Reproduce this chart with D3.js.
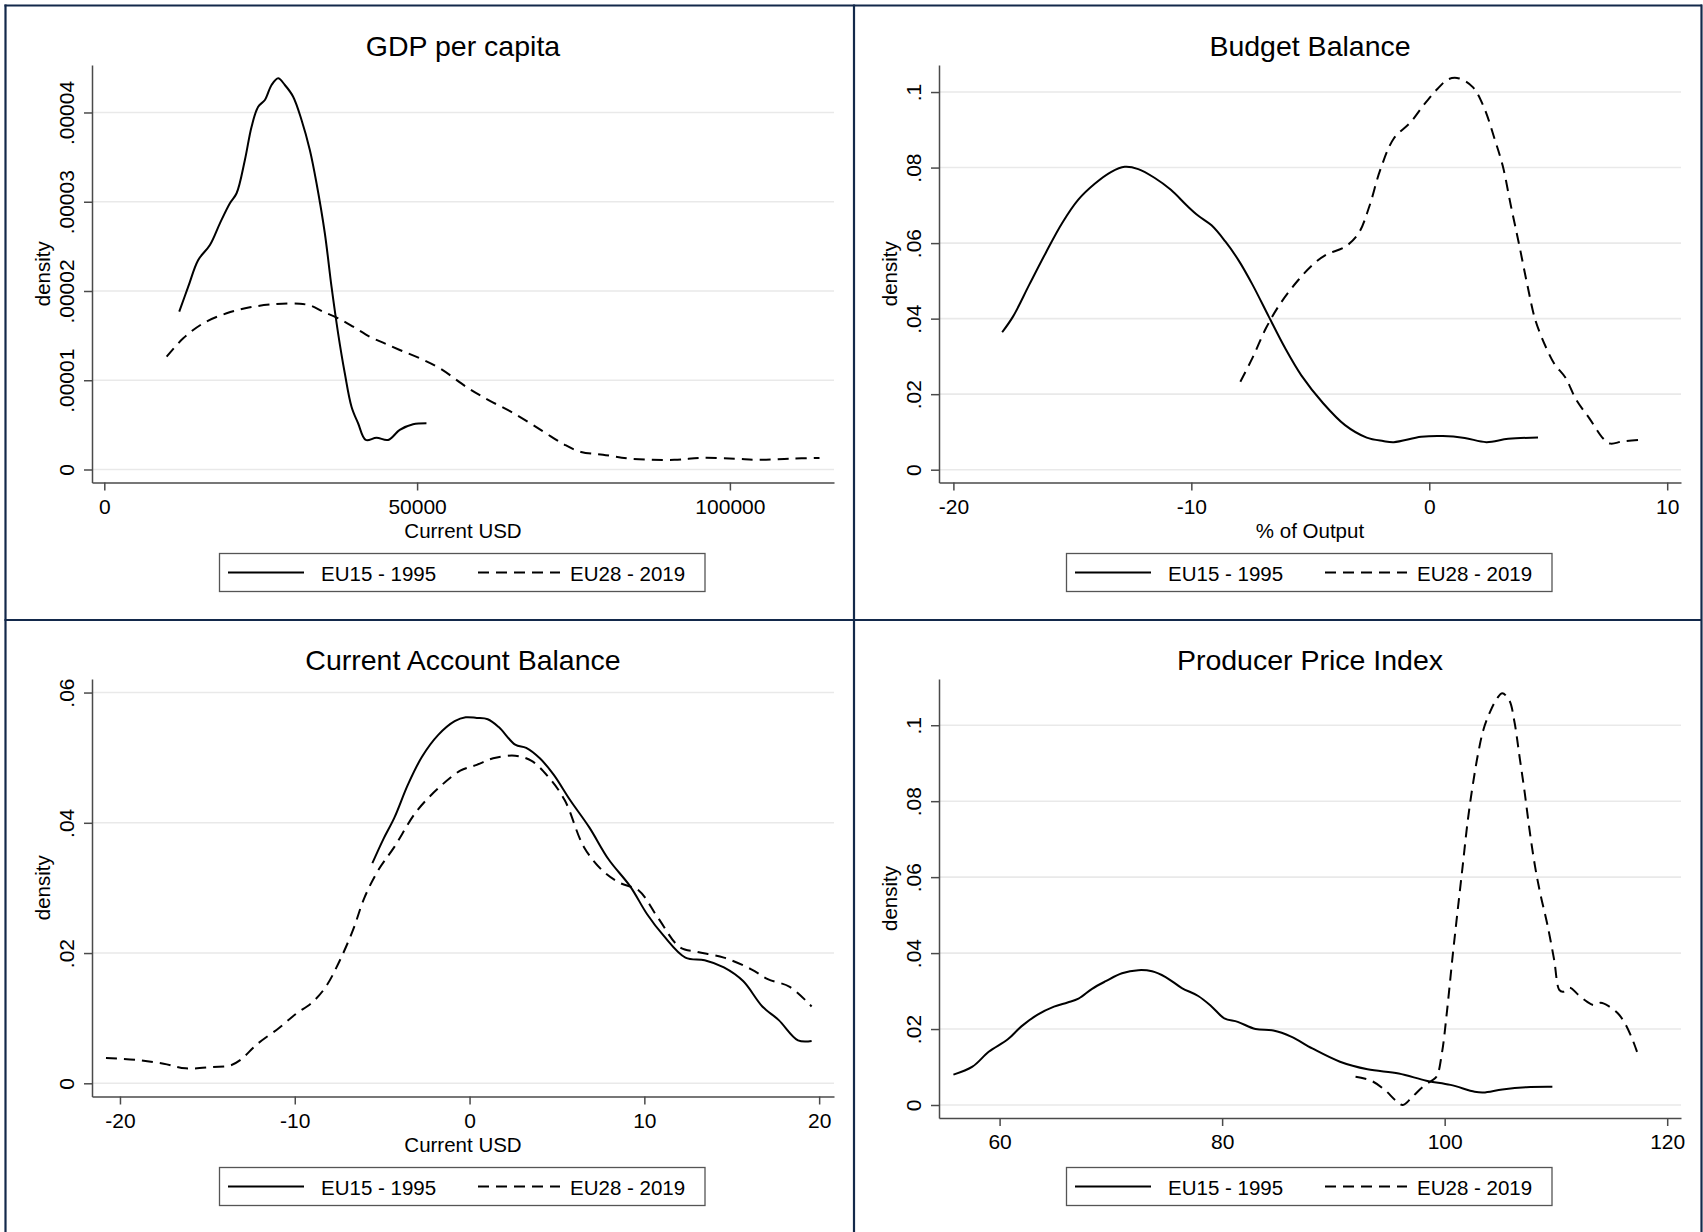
<!DOCTYPE html>
<html><head><meta charset="utf-8">
<script src="https://cdn.jsdelivr.net/npm/d3@7"></script>
<style>
body{margin:0;background:#fff}
text{font-family:"Liberation Sans",Arial,Helvetica,sans-serif;fill:#000}
</style>
</head><body>
<svg id="c" width="1703" height="1232"></svg>
<script>
// ---------------- DATA ----------------
const panelTitles = ["GDP per capita", "Budget Balance", "Current Account Balance", "Producer Price Index"];
const xAxisTitles = ["Current USD", "% of Output", "Current USD", ""];
const seriesNames = ["EU15 - 1995", "EU28 - 2019"];

const gdpXTicks = [0, 50000, 100000];
const gdpXTickLabels = ["0", "50000", "100000"];
const gdpYTicks = [0, 0.00001, 0.00002, 0.00003, 0.00004];
const gdpYTickLabels = ["0", ".00001", ".00002", ".00003", ".00004"];

const budXTicks = [-20, -10, 0, 10];
const budXTickLabels = ["-20", "-10", "0", "10"];
const budYTicks = [0, 0.02, 0.04, 0.06, 0.08, 0.1];
const budYTickLabels = ["0", ".02", ".04", ".06", ".08", ".1"];

const caXTicks = [-20, -10, 0, 10, 20];
const caXTickLabels = ["-20", "-10", "0", "10", "20"];
const caYTicks = [0, 0.02, 0.04, 0.06];
const caYTickLabels = ["0", ".02", ".04", ".06"];

const ppiXTicks = [60, 80, 100, 120];
const ppiXTickLabels = ["60", "80", "100", "120"];
const ppiYTicks = [0, 0.02, 0.04, 0.06, 0.08, 0.1];
const ppiYTickLabels = ["0", ".02", ".04", ".06", ".08", ".1"];

const gdpEU15 = [[11979,1.768e-5],[13416,2.048e-5],[15014,2.347e-5],[16882,2.515e-5],[18480,2.758e-5],[20077,2.983e-5],[21146,3.095e-5],[22473,3.468e-5],[23542,3.841e-5],[24597,4.065e-5],[25668,4.14e-5],[26737,4.308e-5],[27791,4.383e-5],[28861,4.308e-5],[30187,4.177e-5],[31528,3.916e-5],[32854,3.58e-5],[33924,3.207e-5],[35251,2.647e-5],[36320,2.048e-5],[37374,1.526e-5],[38444,1.078e-5],[39515,7.04e-6],[40569,5.18e-6],[41798,3.31e-6],[43507,3.56e-6],[45360,3.31e-6],[47229,4.43e-6],[49353,5.06e-6],[51494,5.18e-6]];
const gdpEU28 = [[9966,1.264e-5],[12618,1.47e-5],[15812,1.638e-5],[19550,1.75e-5],[23271,1.817e-5],[27535,1.854e-5],[31257,1.858e-5],[33126,1.832e-5],[34979,1.768e-5],[37374,1.694e-5],[39771,1.6e-5],[42437,1.488e-5],[44561,1.421e-5],[47229,1.339e-5],[50423,1.246e-5],[53618,1.134e-5],[58410,9.0e-6],[61644,7.7e-6],[65696,6.2e-6],[70067,4.3e-6],[73588,2.77e-6],[76216,1.96e-6],[79712,1.66e-6],[84088,1.21e-6],[91101,1.08e-6],[95477,1.3e-6],[100742,1.21e-6],[104683,1.08e-6],[109503,1.21e-6],[114324,1.3e-6]];

const budEU15 = [[-17.95,0.0364],[-17.49,0.0406],[-16.81,0.049],[-16.12,0.0574],[-15.44,0.0652],[-14.75,0.0715],[-14.06,0.0757],[-13.38,0.0788],[-12.8,0.0802],[-12.23,0.0796],[-11.55,0.0773],[-10.86,0.0741],[-10.18,0.0699],[-9.72,0.0673],[-9.15,0.0647],[-8.58,0.0605],[-8.0,0.0553],[-7.43,0.049],[-6.75,0.0406],[-6.06,0.0322],[-5.37,0.0249],[-4.46,0.0176],[-3.54,0.0118],[-2.63,0.0085],[-1.94,0.0076],[-1.49,0.0073],[-0.34,0.0087],[0.57,0.0089],[1.49,0.0084],[2.4,0.0073],[3.32,0.0082],[4.57,0.0085]];
const budEU28 = [[-7.94,0.0233],[-7.43,0.0296],[-6.86,0.0375],[-6.29,0.0437],[-5.6,0.0495],[-4.91,0.0542],[-4.34,0.0569],[-3.54,0.059],[-2.97,0.0626],[-2.51,0.0699],[-2.06,0.0794],[-1.49,0.0877],[-0.8,0.0919],[-0.23,0.0966],[0.34,0.1008],[0.8,0.1034],[1.26,0.1036],[1.83,0.1013],[2.29,0.0961],[2.74,0.0877],[3.09,0.0804],[3.43,0.0699],[3.78,0.0595],[4.12,0.049],[4.46,0.0396],[4.92,0.0322],[5.26,0.028],[5.72,0.0244],[6.17,0.0186],[6.75,0.0134],[7.32,0.0082],[7.62,0.0069],[8.12,0.0075],[8.92,0.0079]];

const caEU15 = [[-5.56,0.0338],[-4.93,0.0375],[-4.3,0.0408],[-3.52,0.0459],[-2.73,0.0501],[-1.79,0.0535],[-0.85,0.0556],[-0.22,0.0562],[0.41,0.0561],[1.04,0.0559],[1.67,0.0547],[2.61,0.052],[3.24,0.0515],[4.02,0.0499],[4.81,0.0474],[5.75,0.0435],[6.85,0.0393],[7.95,0.0344],[9.2,0.0302],[10.15,0.026],[11.09,0.0227],[12.35,0.0193],[13.45,0.0189],[14.55,0.0178],[15.65,0.0157],[16.75,0.0118],[17.69,0.0097],[18.79,0.0066],[19.57,0.0065]];
const caEU28 = [[-20.8,0.0039],[-19.07,0.0036],[-17.5,0.003],[-16.24,0.0023],[-14.67,0.0025],[-13.73,0.0027],[-13.1,0.0036],[-12.16,0.006],[-10.9,0.0085],[-9.96,0.0106],[-9.01,0.0124],[-8.23,0.0148],[-7.45,0.0187],[-6.66,0.0236],[-6.03,0.0284],[-5.25,0.0326],[-4.3,0.0363],[-3.05,0.0417],[-1.79,0.0453],[-0.53,0.048],[0.41,0.0489],[1.35,0.0499],[2.61,0.0503],[3.55,0.0495],[4.49,0.0471],[5.44,0.0435],[6.54,0.0363],[7.63,0.0326],[8.58,0.0308],[9.68,0.0296],[10.78,0.0254],[12.03,0.0209],[12.97,0.0202],[14.55,0.0193],[16.12,0.0175],[17.06,0.016],[18.32,0.0148],[19.57,0.0118]];

const ppiEU15 = [[55.85,0.008],[57.56,0.0101],[59.02,0.014],[60.74,0.0173],[61.96,0.0207],[63.42,0.0238],[64.89,0.0259],[66.11,0.027],[67.09,0.028],[68.31,0.0306],[69.54,0.0326],[71.0,0.0347],[72.47,0.0355],[73.7,0.0352],[74.92,0.0337],[76.38,0.0308],[77.85,0.0287],[79.07,0.0259],[80.2,0.0228],[81.4,0.0219],[83.0,0.02],[84.6,0.0196],[86.2,0.018],[88.1,0.0149],[90.59,0.0114],[93.07,0.0094],[95.87,0.0083],[98.35,0.0064],[100.52,0.0053],[102.7,0.0035],[103.47,0.0033],[105.18,0.0041],[107.35,0.0047],[109.68,0.0048]];
const ppiEU28 = [[91.99,0.00745],[93.39,0.0064],[94.63,0.00395],[95.56,0.0013],[96.24,0.0],[97.11,0.0022],[98.04,0.0048],[98.82,0.0064],[99.28,0.0075],[99.75,0.0136],[100.22,0.025],[100.68,0.0382],[101.14,0.0505],[101.61,0.0627],[102.08,0.075],[102.55,0.0847],[103.01,0.0926],[103.47,0.0987],[104.09,0.1036],[104.72,0.1071],[105.18,0.1084],[105.8,0.1066],[106.27,0.1009],[106.73,0.0917],[107.2,0.0821],[107.67,0.0715],[108.13,0.0627],[108.59,0.0557],[109.21,0.0478],[109.84,0.0382],[110.3,0.0303],[110.62,0.0298],[111.24,0.0309],[112.01,0.029],[112.78,0.0272],[113.41,0.0263],[114.03,0.0269],[114.8,0.0259],[115.58,0.0241],[116.2,0.0215],[116.83,0.0176],[117.29,0.014]];

// ---------------- LAYOUT ----------------
const W = 1703, H = 1232;
const svg = d3.select("#c");
svg.append("rect").attr("width", W).attr("height", H).attr("fill", "#fff");

const panels = [
  {ox:0,   oy:0,   xDom:[-1966,116640], yDom:[-1.457e-6,4.532e-5], bottom:482.5, xt:gdpXTicks, xl:gdpXTickLabels, yt:gdpYTicks, yl:gdpYTickLabels, s:[gdpEU15,gdpEU28]},
  {ox:847, oy:0,   xDom:[-20.605,10.58], yDom:[-0.00339,0.10716], bottom:482.5, xt:budXTicks, xl:budXTickLabels, yt:budYTicks, yl:budYTickLabels, s:[budEU15,budEU28]},
  {ox:0,   oy:614, xDom:[-21.6,20.85], yDom:[-0.002027,0.06208], bottom:482.5, xt:caXTicks, xl:caXTickLabels, yt:caYTicks, yl:caYTickLabels, s:[caEU15,caEU28]},
  {ox:847, oy:614, xDom:[54.554,121.24], yDom:[-0.003423,0.11217], bottom:504, xt:ppiXTicks, xl:ppiXTickLabels, yt:ppiYTicks, yl:ppiYTickLabels, s:[ppiEU15,ppiEU28]}
];
const L = 92, R = 834, T = 65;
const dashes = [null, "11,7"];
const axisCol = "#4a4a4a";

panels.forEach((p, i) => {
  const g = svg.append("g").attr("transform", `translate(${p.ox},${p.oy})`);
  const x = d3.scaleLinear().domain(p.xDom).range([L, R]);
  const y = d3.scaleLinear().domain(p.yDom).range([p.bottom, T]);

  // gridlines
  g.selectAll(".grid").data(p.yt).enter().append("line")
    .attr("x1", L + 1).attr("x2", R).attr("y1", d => y(d)).attr("y2", d => y(d))
    .attr("stroke", "#e9e9e9").attr("stroke-width", 1.6);

  // y axis
  const ya = d3.axisLeft(y).tickValues(p.yt).tickFormat((d, k) => p.yl[k]).tickSize(8).tickSizeOuter(0);
  const yg = g.append("g").attr("transform", `translate(${L},0)`).call(ya);
  yg.select(".domain").attr("stroke", axisCol).attr("stroke-width", 1.5);
  yg.selectAll(".tick line").attr("stroke", axisCol).attr("stroke-width", 1.5);
  yg.selectAll(".tick text").attr("font-size", 21).attr("fill", "#000")
    .attr("text-anchor", "middle").attr("dy", 0).attr("x", 0)
    .attr("transform", "translate(-18.5,0) rotate(-90)");

  // x axis
  const xa = d3.axisBottom(x).tickValues(p.xt).tickFormat((d, k) => p.xl[k]).tickSize(8).tickSizeOuter(0);
  const xg = g.append("g").attr("transform", `translate(0,${p.bottom})`).call(xa);
  xg.select(".domain").attr("stroke", axisCol).attr("stroke-width", 1.5);
  xg.selectAll(".tick line").attr("stroke", axisCol).attr("stroke-width", 1.5);
  xg.selectAll(".tick text").attr("font-size", 21).attr("fill", "#000").attr("dy", 0).attr("y", 31);

  // titles
  g.append("text").attr("x", (L + R) / 2).attr("y", 55.5).attr("text-anchor", "middle")
    .attr("font-size", 28.5).text(panelTitles[i]);
  if (xAxisTitles[i]) {
    g.append("text").attr("x", (L + R) / 2).attr("y", 537.5).attr("text-anchor", "middle")
      .attr("font-size", 20.5).text(xAxisTitles[i]);
  }
  g.append("text").attr("transform", `translate(50,${(T + p.bottom) / 2}) rotate(-90)`)
    .attr("text-anchor", "middle").attr("font-size", 20.5).text("density");

  // curves
  const line = d3.line().x(d => x(d[0])).y(d => y(d[1])).curve(d3.curveCatmullRom.alpha(0.5));
  p.s.forEach((s, k) => {
    g.append("path").datum(s).attr("d", line).attr("fill", "none")
      .attr("stroke", "#000").attr("stroke-width", 2)
      .attr("stroke-dasharray", dashes[k]);
  });

  // legend
  const lg = g.append("g");
  lg.append("rect").attr("x", 219.5).attr("y", 553.5).attr("width", 485.5).attr("height", 38)
    .attr("fill", "#fff").attr("stroke", "#555").attr("stroke-width", 1.3);
  const keyX = [[228, 304, 321], [478, 560, 570]];
  seriesNames.forEach((nm, k) => {
    lg.append("line").attr("x1", keyX[k][0]).attr("x2", keyX[k][1]).attr("y1", 572.5).attr("y2", 572.5)
      .attr("stroke", "#000").attr("stroke-width", 2).attr("stroke-dasharray", dashes[k]);
    lg.append("text").attr("x", keyX[k][2]).attr("y", 580.5).attr("font-size", 20.5).text(nm);
  });
});

// frame
const frameCol = "#13294b";
const fr = svg.append("g").attr("stroke", frameCol).attr("stroke-width", 2.2);
fr.append("line").attr("x1", 5.5).attr("x2", 5.5).attr("y1", 4.5).attr("y2", H);
fr.append("line").attr("x1", 4.5).attr("x2", 1702).attr("y1", 5.5).attr("y2", 5.5);
fr.append("line").attr("x1", 1701.5).attr("x2", 1701.5).attr("y1", 4.5).attr("y2", H);
fr.append("line").attr("x1", 854).attr("x2", 854).attr("y1", 4.5).attr("y2", H);
fr.append("line").attr("x1", 4.5).attr("x2", 1702).attr("y1", 620).attr("y2", 620);
</script>
</body></html>
